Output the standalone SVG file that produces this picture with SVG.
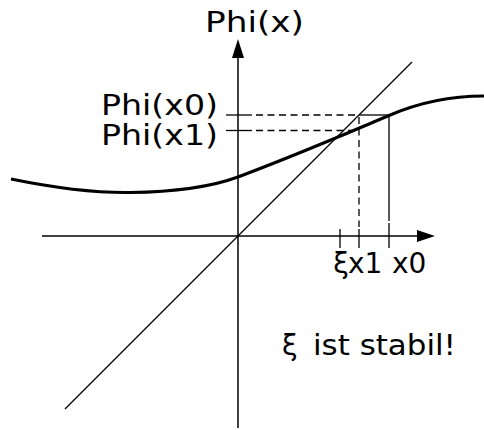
<svg xmlns="http://www.w3.org/2000/svg" width="484" height="430" viewBox="0 0 484 430">
<style>
.ax{stroke:#000;stroke-width:1.5;fill:none}
.thin{stroke:#000;stroke-width:1.3;fill:none}
.dash{stroke:#000;stroke-width:1.3;fill:none;stroke-dasharray:7,4.5}
.curve{stroke:#000;stroke-width:3;fill:none}
.head{fill:#000;stroke:none}
text{font-family:"DejaVu Sans","Liberation Sans",sans-serif;font-size:28px;fill:#000}
</style>
<g id="axes">
<line class="ax" x1="238" y1="428" x2="238" y2="56"/>
<polygon class="head" points="238,39 232,58 244,58"/>
<line class="ax" x1="42" y1="236" x2="419" y2="236"/>
<polygon class="head" points="435,236 417,230 417,242"/>
</g>
<g id="diagonal">
<line class="thin" x1="65" y1="409" x2="412" y2="62"/>
</g>
<g id="curve">
<path class="curve" d="M11,179 C55,188 95,193 130,192.5 C170,192 208,188 238,177 C275,163 320,145 389,115.5 C420,102 450,96 484,96"/>
</g>
<g id="connectors">
<line class="thin" x1="226" y1="115" x2="252" y2="115"/>
<line class="dash" x1="256" y1="115" x2="359" y2="115"/>
<line class="thin" x1="359" y1="115" x2="389" y2="115"/>
<line class="thin" x1="226" y1="130.5" x2="252" y2="130.5"/>
<line class="dash" x1="256" y1="130.5" x2="359" y2="130.5"/>
<line class="dash" x1="359" y1="117" x2="359" y2="227"/>
<line class="thin" x1="389" y1="115" x2="389" y2="221"/>
<line class="thin" x1="340" y1="229" x2="340" y2="248"/>
<line class="thin" x1="359" y1="229" x2="359" y2="248"/>
<line class="thin" x1="389" y1="223" x2="389" y2="248"/>
</g>
<g id="labels">
<text x="205" y="32" textLength="99" lengthAdjust="spacingAndGlyphs">Phi(x)</text>
<text x="101" y="115" textLength="117" lengthAdjust="spacingAndGlyphs">Phi(x0)</text>
<text x="101" y="145" textLength="117" lengthAdjust="spacingAndGlyphs">Phi(x1)</text>
<text x="341" y="273" text-anchor="middle" font-size="27">ξ</text>
<text x="348" y="273" font-size="27">x1</text>
<text x="392" y="273" font-size="27">x0</text>
<text x="282" y="355">ξ <tspan x="313" textLength="143" lengthAdjust="spacingAndGlyphs">ist stabil!</tspan></text>
</g>
</svg>
